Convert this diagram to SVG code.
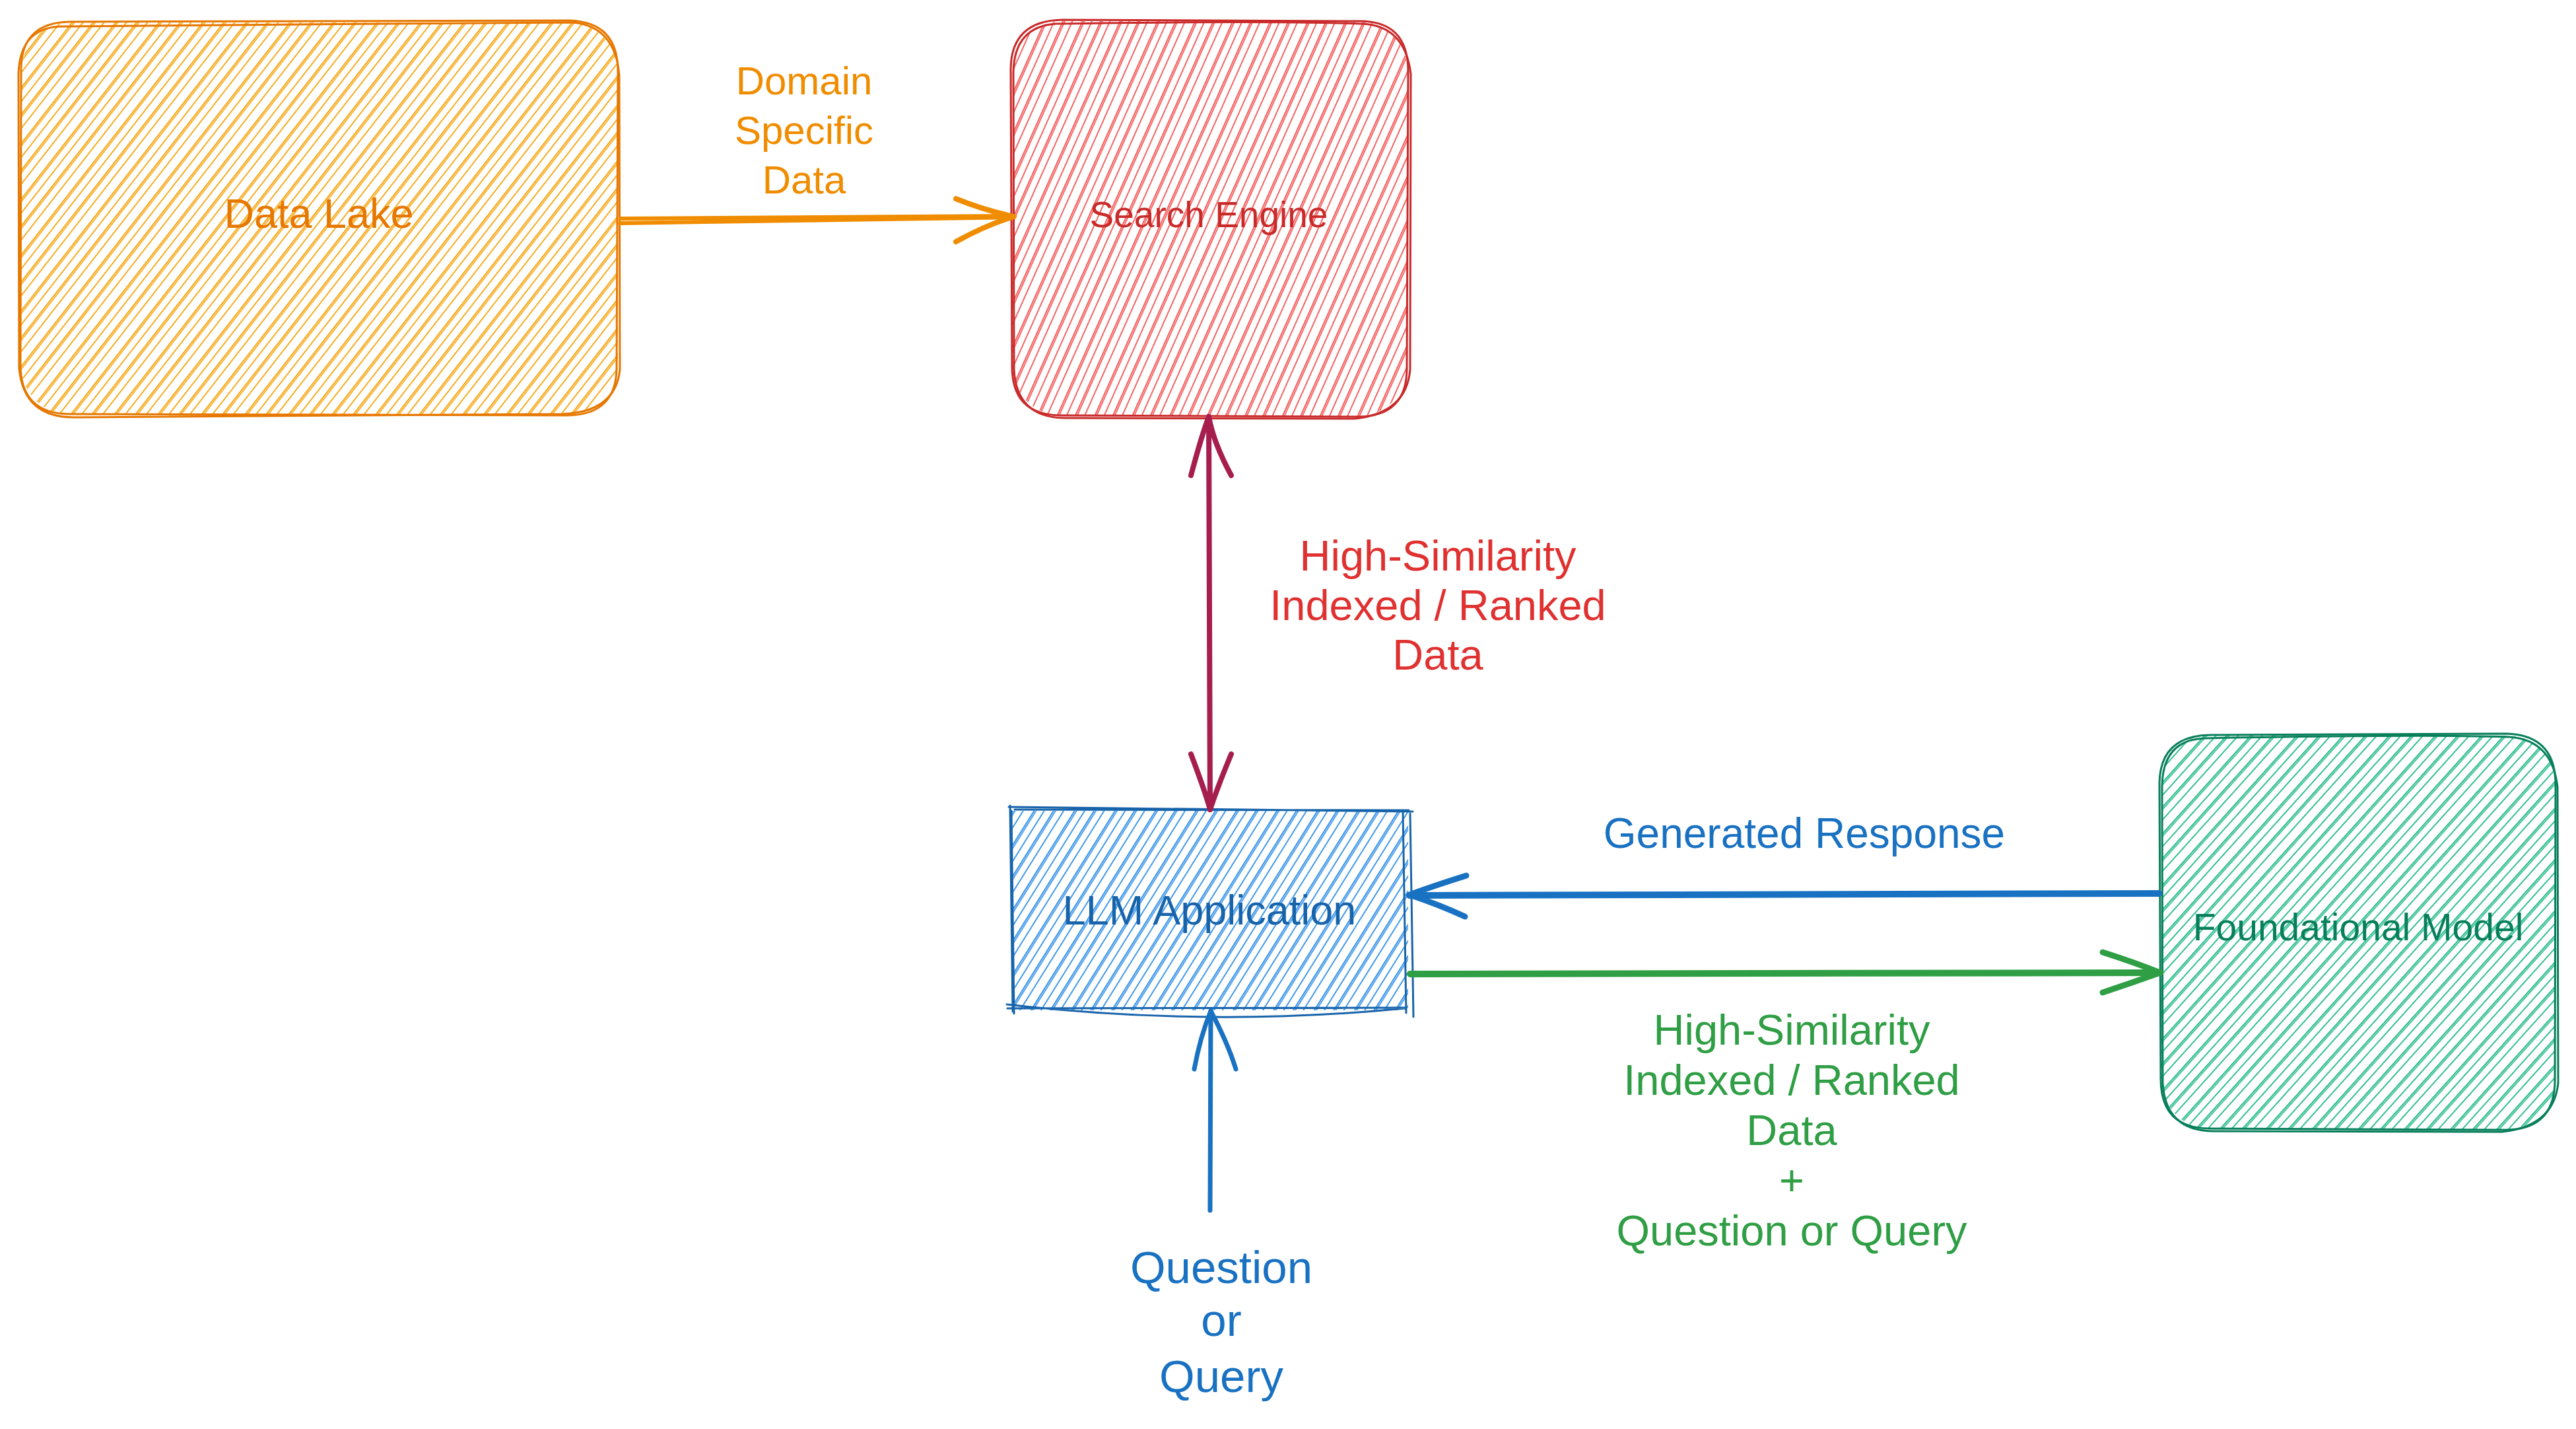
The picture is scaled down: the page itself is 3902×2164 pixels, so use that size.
<svg xmlns="http://www.w3.org/2000/svg" width="3902" height="2164" viewBox="0 0 3902 2164">
  <style>
    .outline { fill: none; stroke-width: 3; stroke-linecap: round; stroke-linejoin: round; }
    .conn { fill: none; stroke-linecap: round; stroke-linejoin: round; }
    .txt { font-family: "Liberation Sans", Arial, sans-serif; text-anchor: middle; }
    .edge-label { font-size: 65px; }
  </style>
  <defs>
    <!-- hand-drawn style hachure fills: irregular, partly doubled diagonal strokes -->
    <pattern id="hOrange" patternUnits="userSpaceOnUse" width="52" height="52" patternTransform="rotate(38)">
      <path d="M3,0V52M5.5,0V52M16,0V52M28,0V52M30.5,0V52M41,0V52" stroke="#f5a40c" stroke-width="1.8" fill="none"/>
    </pattern>
    <pattern id="hRed" patternUnits="userSpaceOnUse" width="52" height="52" patternTransform="rotate(24)">
      <path d="M3,0V52M5.5,0V52M16,0V52M28,0V52M30.5,0V52M41,0V52" stroke="#f03e3e" stroke-width="1.6" fill="none"/>
    </pattern>
    <pattern id="hBlue" patternUnits="userSpaceOnUse" width="52" height="52" patternTransform="rotate(32)">
      <path d="M3,0V52M5.5,0V52M16,0V52M28,0V52M30.5,0V52M41,0V52" stroke="#2f8ee6" stroke-width="1.8" fill="none"/>
    </pattern>
    <pattern id="hGreen" patternUnits="userSpaceOnUse" width="52" height="52" patternTransform="rotate(42)">
      <path d="M3,0V52M5.5,0V52M16,0V52M28,0V52M30.5,0V52M41,0V52" stroke="#1fb886" stroke-width="1.8" fill="none"/>
    </pattern>
  </defs>

  <rect width="3902" height="2164" fill="#ffffff"/>

  <!-- Data Lake -->
  <g id="node-data-lake">
    <rect x="32" y="34" width="904" height="594" rx="75" fill="url(#hOrange)"/>
    <path class="outline" stroke="#e67700" d="M106,33 L862,31 Q936,33 936,108 L934,554 Q935,628 860,629 L104,627 Q31,626 31,552 L32,107 Q31,34 106,33 Z"/>
    <path class="outline" stroke="#e67700" d="M100,40 C350,36 650,38 868,34 Q932,40 938,114 L939,560 Q932,624 852,627 L112,632 Q36,632 29,558 L28,112 Q30,38 100,40"/>
    <text class="txt" font-size="63" x="483" y="345" fill="#e67700">Data Lake</text>
  </g>

  <!-- Search Engine -->
  <g id="node-search-engine">
    <rect x="1534" y="32" width="598" height="598" rx="75" fill="url(#hRed)"/>
    <path class="outline" stroke="#c92a2a" d="M1610,30 L2058,32 Q2133,31 2133,108 L2131,556 Q2132,630 2058,631 L1606,629 Q1532,628 1533,553 L1531,104 Q1532,31 1610,30 Z"/>
    <path class="outline" stroke="#c92a2a" d="M1600,36 C1800,33 1950,32 2062,36 Q2128,38 2137,112 L2136,560 Q2130,626 2052,634 L1612,633 Q1540,632 1536,560 L1535,110 Q1536,40 1600,36"/>
    <text class="txt" font-size="55" x="1831" y="344" fill="#c92a2a">Search Engine</text>
  </g>

  <!-- LLM Application -->
  <g id="node-llm-app">
    <rect x="1533" y="1228" width="600" height="302" fill="url(#hBlue)"/>
    <path class="outline" stroke="#1864ab" d="M1528,1222 L2140,1229 M1537,1226 L2134,1227"/>
    <path class="outline" stroke="#1864ab" d="M1530,1220 L1534,1532 M1532,1228 L1536,1535"/>
    <path class="outline" stroke="#1864ab" d="M2125,1228 L2130,1534 M2136,1232 L2141,1540"/>
    <path class="outline" stroke="#1864ab" d="M1526,1527 L2130,1526 M1525,1521 Q1830,1556 2128,1527"/>
    <text class="txt" font-size="63" x="1832" y="1400" fill="#1864ab">LLM Application</text>
  </g>

  <!-- Foundational Model -->
  <g id="node-foundational-model">
    <rect x="3274" y="1114" width="597" height="596" rx="75" fill="url(#hGreen)"/>
    <path class="outline" stroke="#087f5b" d="M3348,1113 L3796,1111 Q3871,1113 3871,1188 L3870,1636 Q3870,1710 3796,1711 L3346,1709 Q3273,1708 3273,1634 L3271,1186 Q3272,1114 3348,1113 Z"/>
    <path class="outline" stroke="#087f5b" d="M3340,1118 C3550,1114 3700,1113 3800,1116 Q3866,1120 3874,1192 L3875,1640 Q3868,1706 3790,1714 L3352,1713 Q3280,1712 3276,1640 L3275,1190 Q3276,1120 3340,1118"/>
    <text class="txt" font-size="57" x="3572" y="1424" fill="#087f5b">Foundational Model</text>
  </g>

  <!-- Connectors -->
  <g id="connectors">
    <!-- Data Lake -> Search Engine -->
    <g stroke="#f08c00">
      <path class="conn" stroke-width="6" d="M939,338 L1536,329"/>
      <path class="conn" stroke-width="6" d="M940,331 Q1200,330 1534,327"/>
      <path class="conn" stroke-width="8" d="M1448,301 Q1490,318 1536,328 Q1495,340 1448,366"/>
    </g>
    <!-- Search Engine <-> LLM Application -->
    <g stroke="#a61e4d">
      <path class="conn" stroke-width="8" d="M1831,631 L1833,1226"/>
      <path class="conn" stroke-width="8" d="M1804,720 Q1820,660 1831,631 Q1838,670 1865,720"/>
      <path class="conn" stroke-width="8" d="M1804,1142 Q1826,1200 1833,1226 Q1845,1190 1865,1142"/>
    </g>
    <!-- Foundational Model -> LLM Application -->
    <g stroke="#1971c2">
      <path class="conn" stroke-width="10" d="M3270,1353 L2135,1356"/>
      <path class="conn" stroke-width="9" d="M2221,1326 Q2170,1342 2135,1355 Q2180,1370 2219,1388"/>
    </g>
    <!-- LLM Application -> Foundational Model -->
    <g stroke="#2f9e44">
      <path class="conn" stroke-width="10" d="M2136,1475 L3272,1473"/>
      <path class="conn" stroke-width="9" d="M3185,1442 Q3235,1458 3272,1473 Q3230,1488 3185,1503"/>
    </g>
    <!-- Question or Query -> LLM Application -->
    <g stroke="#1971c2">
      <path class="conn" stroke-width="7" d="M1833,1833 L1834,1531"/>
      <path class="conn" stroke-width="7" d="M1809,1619 Q1818,1570 1834,1531 Q1860,1580 1872,1619"/>
    </g>
  </g>

  <!-- Connector labels -->
  <g id="labels" class="txt edge-label">
    <text fill="#f08c00" x="1218" y="143" font-size="60">Domain</text>
    <text fill="#f08c00" x="1218" y="218" font-size="60">Specific</text>
    <text fill="#f08c00" x="1218" y="293" font-size="60">Data</text>

    <text fill="#e03131" x="2178" y="864">High-Similarity</text>
    <text fill="#e03131" x="2178" y="939">Indexed / Ranked</text>
    <text fill="#e03131" x="2178" y="1014">Data</text>

    <text fill="#1971c2" x="2733" y="1284" font-size="64">Generated Response</text>

    <text fill="#2f9e44" x="2714" y="1582">High-Similarity</text>
    <text fill="#2f9e44" x="2714" y="1658">Indexed / Ranked</text>
    <text fill="#2f9e44" x="2714" y="1734">Data</text>
    <text fill="#2f9e44" x="2714" y="1810">+</text>
    <text fill="#2f9e44" x="2714" y="1886">Question or Query</text>

    <text fill="#1971c2" x="1850" y="1943" font-size="69">Question</text>
    <text fill="#1971c2" x="1850" y="2023" font-size="69">or</text>
    <text fill="#1971c2" x="1850" y="2108" font-size="69">Query</text>
  </g>
</svg>
